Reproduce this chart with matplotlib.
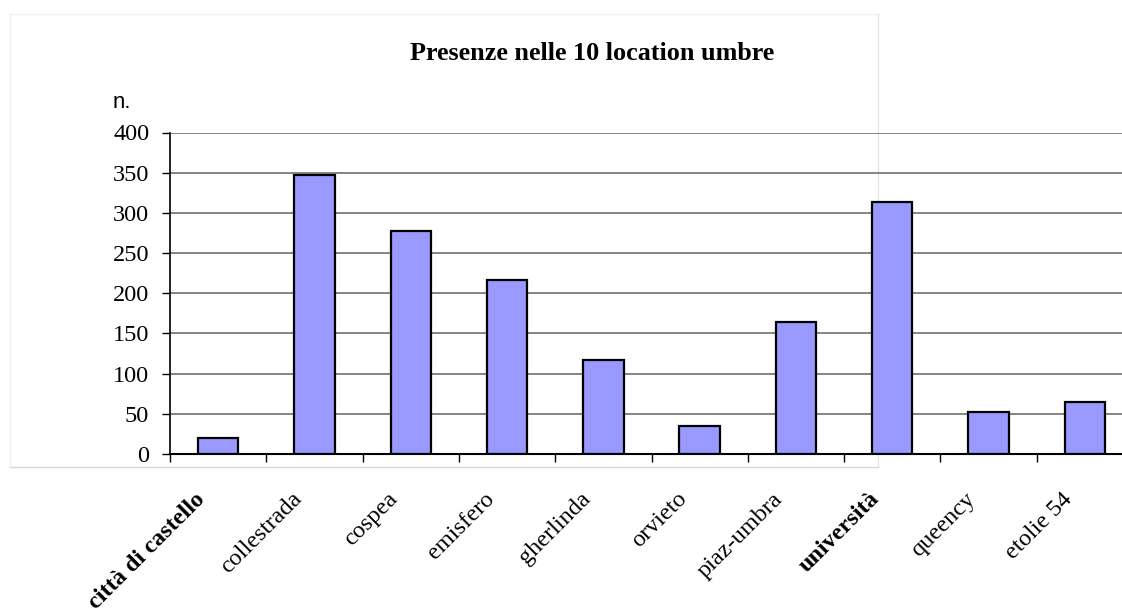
import matplotlib
matplotlib.use("Agg")
import matplotlib.pyplot as plt
from matplotlib.lines import Line2D
import matplotlib.transforms as mtrans
import numpy as np

categories = ["città di castello", "collestrada", "cospea", "emisfero", "gherlinda",
              "orvieto", "piaz-umbra", "università", "queency", "etolie 54"]
values = [20, 347, 277, 217, 117, 35, 164, 314, 52, 65]
bold_labels = ["città di castello", "università"]
y_ticks = [0, 50, 100, 150, 200, 250, 300, 350, 400]
title = "Presenze nelle 10 location umbre"

W, H = 1122, 608
fig = plt.figure(figsize=(W / 100, H / 100), dpi=100)
fig.patch.set_facecolor("white")

# faint frame of the original chart area
def fl(x0, y0, x1, y1, c):
    fig.add_artist(Line2D([x0 / W, x1 / W], [1 - y0 / H, 1 - y1 / H], color=c, lw=1, zorder=0))
fl(10, 14, 878, 14, "#f0f0f0")
fl(10, 14, 10, 467, "#f0f0f0")
fl(878, 14, 878, 467, "#e6e6e6")
fl(10, 467, 878, 467, "#d8d8d8")

left, right, top, bottom = 170, 1133, 132.5, 454
ax = fig.add_axes([left / W, 1 - bottom / H, (right - left) / W, (bottom - top) / H])
ax.set_facecolor("none")

x = np.arange(len(categories))
ax.bar(x, values, width=0.42, color="#9999FF", edgecolor="black", linewidth=1.6, zorder=3)

ax.set_xlim(-0.5, len(categories) - 0.5)
ax.set_ylim(0, 400)
ax.set_yticks(y_ticks)
ax.set_yticklabels([str(v) for v in y_ticks], fontfamily="Liberation Serif", fontsize=17.5)
ax.tick_params(axis="y", length=6, width=1, color="black", pad=9)
for y in y_ticks[1:]:
    ax.axhline(y, color="#707070", lw=1.2, zorder=1)

ax.set_xticks(x)
ax.set_xticklabels([])
ax.tick_params(axis="x", which="major", length=0)
ax.set_xticks(np.arange(-0.5, len(categories), 1.0), minor=True)
ax.tick_params(axis="x", which="minor", length=6, width=1, color="black")

for s in ["top", "right"]:
    ax.spines[s].set_visible(False)
ax.spines["left"].set_color("black")
ax.spines["bottom"].set_color("black")
ax.spines["left"].set_linewidth(1.2)
ax.spines["bottom"].set_linewidth(1.5)

off = mtrans.ScaledTranslation(-16 / 100, -42 / 100, fig.dpi_scale_trans)
xform = mtrans.blended_transform_factory(ax.transData, ax.transAxes) + off
for xi, lab in zip(x, categories):
    ax.text(xi, 0, lab, transform=xform,
            rotation=45, ha="right", va="center", rotation_mode="anchor",
            fontfamily="Liberation Serif", fontsize=17.5,
            fontweight="bold" if lab in bold_labels else "normal")

fig.text(592 / W, 1 - 60 / H, title, ha="center", va="baseline",
         fontfamily="Liberation Serif", fontsize=18.8, fontweight="bold")
fig.text(113 / W, 1 - 108 / H, "n.", ha="left", va="baseline",
         fontfamily="Liberation Sans", fontsize=16)

fig.savefig("out.png", dpi=100, facecolor="white")
